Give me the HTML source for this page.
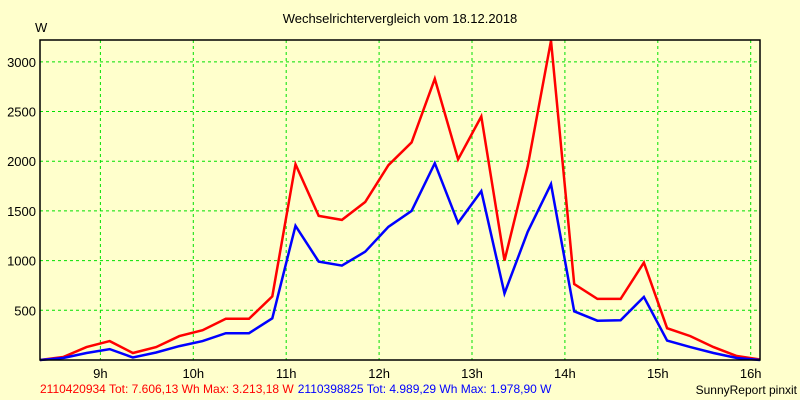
<!DOCTYPE html>
<html><head><meta charset="utf-8"><style>
body{margin:0;background:#ffffcc;}
svg{display:block;font-family:"Liberation Sans",sans-serif;}
</style></head><body>
<svg id="chart" width="800" height="400">
<rect x="0" y="0" width="800" height="400" fill="#ffffcc"/>
<text x="400" y="23" font-size="13" text-anchor="middle">Wechselrichtervergleich vom 18.12.2018</text>
<text x="35" y="32" font-size="13">W</text>
<g id="grid"></g><g id="series"></g><g id="axes"></g>
<text y="393" font-size="12"><tspan x="40" fill="#ff0000">2110420934 Tot: 7.606,13 Wh Max: 3.213,18 W</tspan><tspan fill="#0000ff" dx="4">2110398825 Tot: 4.989,29 Wh Max: 1.978,90 W</tspan></text>
<text x="797" y="394" font-size="12" text-anchor="end">SunnyReport pinxit</text>
</svg>
<script>
const hourTicks = [9,10,11,12,13,14,15,16];
const valueTicks = [500,1000,1500,2000,2500,3000];
const startHour = 8.35, stepHours = 0.25;
const redValues = [0,30,130,190,70,130,240,300,415,415,640,1970,1450,1410,1590,1960,2190,2830,2020,2450,1000,1950,3213,765,615,615,980,320,240,130,40,5];
const blueValues = [0,20,70,110,25,75,140,190,270,270,420,1350,990,950,1090,1340,1500,1980,1380,1700,670,1290,1770,490,395,400,635,195,130,70,20,0];
const NS="http://www.w3.org/2000/svg";
const L=40,R=760,T=40,B=360,xMin=8.35,xMax=16.1,yMax=3220;
const xs=h=>L+(h-xMin)/(xMax-xMin)*(R-L);
const ys=v=>B-v/yMax*(B-T);
function mk(t,a,p){const e=document.createElementNS(NS,t);for(const k in a)e.setAttribute(k,a[k]);p.appendChild(e);return e;}
const grid=document.getElementById('grid'),axes=document.getElementById('axes'),ser=document.getElementById('series');
valueTicks.forEach(v=>{
 const l=mk('line',{x1:L,x2:R,y1:ys(v),y2:ys(v),stroke:'#00e000','stroke-dasharray':'3,3'},grid);
 
 
 const t=mk('text',{x:36,y:ys(v)+5,'font-size':13,'text-anchor':'end'},axes);t.textContent=v;
 
 
});
hourTicks.forEach(h=>{
 const l=mk('line',{x1:xs(h),x2:xs(h),y1:T,y2:B,stroke:'#00e000','stroke-dasharray':'3,3'},grid);
 
 
 const t=mk('text',{x:xs(h),y:378,'font-size':13,'text-anchor':'middle'},axes);t.textContent=h+'h';
 
 
});
const frame=mk('rect',{x:L,y:T,width:R-L,height:B-T,fill:'none',stroke:'#000','stroke-width':1.5},axes);


function line(vals,color,name){
 const pts=vals.map((v,i)=>xs(startHour+i*stepHours).toFixed(1)+','+ys(v).toFixed(1)).join(' ');
 const p=mk('polyline',{points:pts,fill:'none',stroke:color,'stroke-width':2.5,'stroke-linejoin':'miter'},ser);
 
 
}
line(redValues,'#ff0000','series-2110420934');
line(blueValues,'#0000ff','series-2110398825');
</script>
</body></html>
